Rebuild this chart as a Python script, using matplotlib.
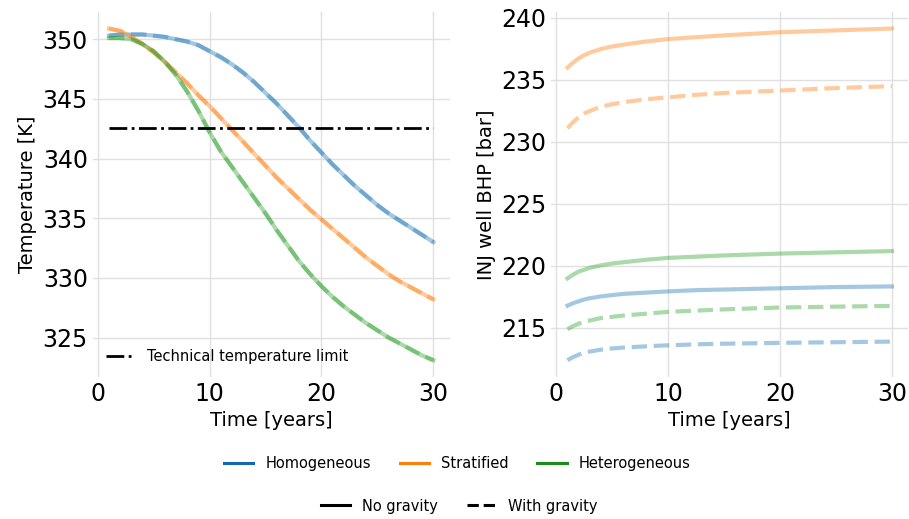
import matplotlib
matplotlib.use("Agg")
import matplotlib.pyplot as plt
from matplotlib.lines import Line2D

# temperature at the production well [K], yearly
t_temp = list(range(1, 31))
temp_homog = [350.3, 350.4, 350.4, 350.4, 350.3, 350.2, 350.0, 349.8, 349.5, 349.0,
              348.5, 347.9, 347.2, 346.4, 345.5, 344.6, 343.6, 342.6, 341.5, 340.5,
              339.5, 338.6, 337.7, 336.9, 336.1, 335.4, 334.8, 334.2, 333.6, 333.0]
temp_strat = [350.9, 350.7, 350.2, 349.6, 348.9, 348.1, 347.2, 346.3, 345.3, 344.4,
              343.4, 342.4, 341.4, 340.4, 339.4, 338.4, 337.5, 336.6, 335.7, 334.9,
              334.1, 333.3, 332.5, 331.7, 331.0, 330.3, 329.7, 329.2, 328.7, 328.2]
temp_heter = [350.1, 350.1, 350.0, 349.6, 349.0, 348.1, 347.0, 345.6, 344.0, 342.2,
              340.6, 339.3, 338.0, 336.7, 335.4, 334.0, 332.7, 331.4, 330.3, 329.3,
              328.4, 327.6, 326.9, 326.2, 325.6, 325.0, 324.5, 324.0, 323.5, 323.1]
# with gravity the temperature curves overlay the no-gravity ones
temp_homog_g = list(temp_homog)
temp_strat_g = list(temp_strat)
temp_heter_g = list(temp_heter)
temp_limit = 342.6

# injection well bottom-hole pressure [bar]
t_bhp = [1, 1.5, 2, 2.5, 3, 4, 5, 6, 8, 10, 12.5, 15, 20, 25, 30]
bhp_homog = [216.8, 217.0, 217.15, 217.3, 217.4, 217.55, 217.65, 217.75, 217.85, 217.95,
             218.05, 218.1, 218.2, 218.3, 218.35]
bhp_strat = [236.0, 236.4, 236.75, 237.0, 237.2, 237.5, 237.7, 237.85, 238.1, 238.3,
             238.45, 238.6, 238.85, 239.0, 239.15]
bhp_heter = [219.0, 219.3, 219.55, 219.7, 219.85, 220.05, 220.2, 220.3, 220.5, 220.65,
             220.75, 220.85, 221.0, 221.1, 221.2]
bhp_homog_g = [212.4, 212.65, 212.85, 213.0, 213.1, 213.25, 213.35, 213.42, 213.52, 213.6,
               213.68, 213.73, 213.8, 213.85, 213.9]
bhp_strat_g = [231.1, 231.6, 232.0, 232.3, 232.5, 232.85, 233.05, 233.2, 233.45, 233.6,
               233.8, 233.95, 234.15, 234.35, 234.5]
bhp_heter_g = [214.9, 215.15, 215.35, 215.5, 215.6, 215.8, 215.9, 216.0, 216.15, 216.3,
               216.4, 216.5, 216.65, 216.72, 216.78]

names = ["Homogeneous", "Stratified", "Heterogeneous"]
colors = ["tab:blue", "tab:orange", "tab:green"]
legend_colors = ["#1565b0", "#ff7f0e", "#1a8c1a"]

plt.rcParams["font.family"] = "DejaVu Sans"

fig, (ax1, ax2) = plt.subplots(1, 2, figsize=(9.09, 5.19), dpi=100)
fig.subplots_adjust(left=0.102, right=0.999, top=0.977, bottom=0.274, wspace=0.285)

temps = [temp_homog, temp_strat, temp_heter]
temps_g = [temp_homog_g, temp_strat_g, temp_heter_g]
for y, yg, c in zip(temps, temps_g, colors):
    ax1.plot(t_temp, y, color=c, lw=3, alpha=0.4)
    ax1.plot(t_temp, yg, color=c, lw=3, alpha=0.4, ls="--")
ax1.plot([t_temp[0], t_temp[-1]], [temp_limit, temp_limit], color="black",
         lw=2, ls="-.", label="Technical temperature limit")
ax1.legend(loc="lower left", frameon=False, fontsize=10.5)
ax1.set_ylabel("Temperature [K]", fontsize=14)

bhps = [bhp_homog, bhp_strat, bhp_heter]
bhps_g = [bhp_homog_g, bhp_strat_g, bhp_heter_g]
for y, yg, c in zip(bhps, bhps_g, colors):
    ax2.plot(t_bhp, y, color=c, lw=3, alpha=0.4)
    ax2.plot(t_bhp, yg, color=c, lw=3, alpha=0.4, ls="--")
ax2.set_ylabel("INJ well BHP [bar]", fontsize=14)

for ax in (ax1, ax2):
    ax.set_xlabel("Time [years]", fontsize=14)
    ax.set_xticks([0, 10, 20, 30])
    ax.tick_params(labelsize=17, length=0)
    ax.grid(True, color="#e0e0e0", lw=1)
    ax.set_axisbelow(True)
    for s in ax.spines.values():
        s.set_visible(False)

case_handles = [Line2D([], [], color=c, lw=2.2) for c in legend_colors]
fig.legend(case_handles, names, ncol=3, frameon=False, fontsize=10.5,
           loc="center", bbox_to_anchor=(0.503, 0.106))
style_handles = [Line2D([], [], color="black", lw=2.2),
                 Line2D([], [], color="black", lw=2.2, ls="--")]
fig.legend(style_handles, ["No gravity", "With gravity"], ncol=2, frameon=False,
           fontsize=10.5, loc="center", bbox_to_anchor=(0.505, 0.025))

fig.savefig("out.png")
